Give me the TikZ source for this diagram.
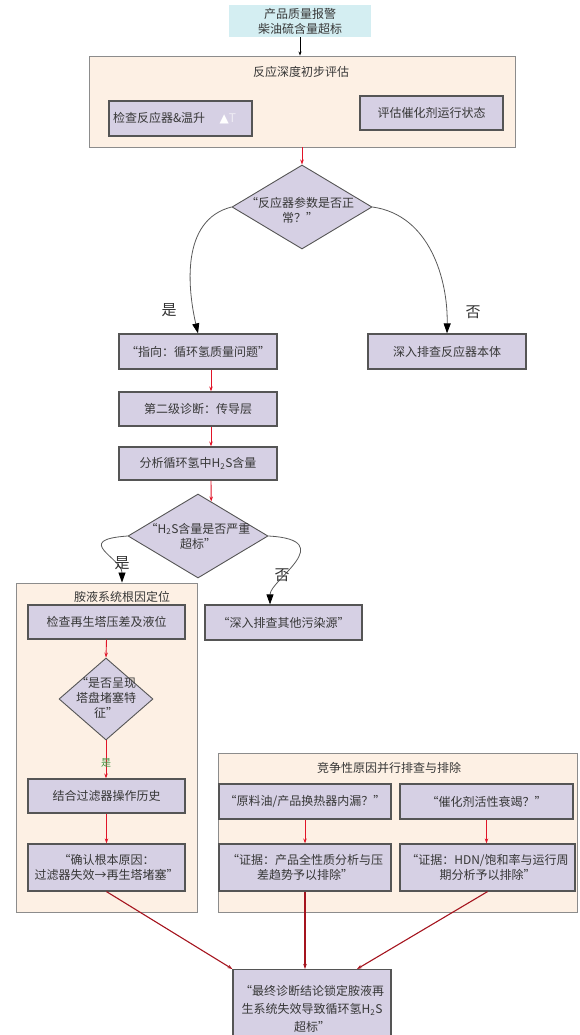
\documentclass[tikz,border=0pt]{standalone}
\usepackage{fontspec}
\setmainfont{Noto Sans CJK SC}
\newfontfamily\symfont{DejaVu Sans}
\usetikzlibrary{shapes.geometric,arrows.meta,calc}
\definecolor{lav}{RGB}{214,208,228}
\definecolor{peach}{RGB}{253,240,228}
\definecolor{cyanbox}{RGB}{212,238,242}
\definecolor{bordr}{RGB}{85,85,85}
\definecolor{clbord}{RGB}{140,140,140}
\definecolor{txt}{RGB}{55,55,55}
\definecolor{redline}{RGB}{225,20,40}
\definecolor{darkred}{RGB}{165,20,30}
\definecolor{lblgreen}{RGB}{70,150,70}
\begin{document}
\begin{tikzpicture}[x=1pt,y=-1pt,
  every node/.style={font=\fontsize{12}{15}\selectfont, text=txt},
  box/.style={draw=bordr, line width=1.2pt, fill=lav, align=center, inner sep=2pt},
  cluster/.style={draw=clbord, line width=0.9pt, fill=peach, inner sep=0pt},
  dia/.style={diamond, draw=bordr, line width=0.9pt, fill=lav, inner sep=0pt},
  dtext/.style={align=center, inner sep=0pt},
  lbl/.style={font=\fontsize{15}{18}\selectfont, text=black!80},
  redarr/.style={draw=redline, line width=0.9pt, -{Stealth[length=5pt,width=3.5pt]}},
  curvearr/.style={draw=black!65, line width=0.8pt, -{Triangle[length=10pt,width=7pt,color=black]}},
  finline/.style={draw=darkred, line width=1.1pt, -{Stealth[length=5pt,width=3.5pt]}},
]
\useasboundingbox (0,0) rectangle (579,1035);

% top
\node[fill=cyanbox, minimum width=142pt, minimum height=32pt, align=center, inner sep=0pt] (top) at (300,21) {产品质量报警\\柴油硫含量超标};

% cluster 1
\node[cluster, minimum width=426pt, minimum height=91pt] (cl1) at (302,101.5) {};
\node (cl1t) at (301,72) {反应深度初步评估};
\node[box, minimum width=143pt, minimum height=35pt, text width=135pt, align=left, inner xsep=4pt] (b1) at (180.5,118.5) {检查反应器\&温升\hspace{1.2em}{\symfont\color{white}▲}{\color{white!60!lav}T}};
\node[box, minimum width=143pt, minimum height=34pt] (b2) at (431.5,113) {评估催化剂运行状态};

% diamond 1
\node[dia, minimum width=140pt, minimum height=84pt] (d1) at (302,207) {};
\node[dtext] (d1t) at (300,210) {“反应器参数是否正\\常？”};

\node[box, minimum width=158pt, minimum height=35pt] (zx) at (198,351.5) {“指向：循环氢质量问题”};
\node[box, minimum width=158pt, minimum height=35pt] (bt) at (447,351.5) {深入排查反应器本体};
\node[box, minimum width=158pt, minimum height=34pt] (l2) at (198,409) {第二级诊断：传导层};
\node[box, minimum width=158pt, minimum height=33pt] (ana) at (198,463.5) {分析循环氢中H\textsubscript{2}S含量};

% diamond 2
\node[dia, minimum width=140pt, minimum height=84pt] (d2) at (198,536) {};
\node[dtext] (d2t) at (198,536) {“H\textsubscript{2}S含量是否严重\\超标”};

% cluster 2
\node[cluster, minimum width=181pt, minimum height=329pt] (cl2) at (106.5,747.5) {};
\node (cl2t) at (122,597) {胺液系统根因定位};
\node[box, minimum width=157pt, minimum height=34pt] (chk) at (106.5,622) {检查再生塔压差及液位};
\node[dia, minimum width=94pt, minimum height=82pt] (d3) at (106,699) {};
\node[dtext] (d3t) at (106,698) {“是否呈现\\塔盘堵塞特\\征”};
\node[box, minimum width=157pt, minimum height=34pt] (flt) at (106.5,796) {结合过滤器操作历史};
\node[box, minimum width=157pt, minimum height=47pt] (conf) at (106.5,867.5) {“确认根本原因：\\过滤器失效→再生塔堵塞”};

\node[box, minimum width=157pt, minimum height=35pt] (oth) at (283.5,622.5) {“深入排查其他污染源”};

% cluster 3
\node[cluster, minimum width=359pt, minimum height=159pt] (cl3) at (397.5,832.5) {};
\node (cl3t) at (389,768) {竞争性原因并行排查与排除};
\node[box, minimum width=172pt, minimum height=35pt] (raw) at (305,801.5) {“原料油/产品换热器内漏？”};
\node[box, minimum width=173pt, minimum height=35pt] (cat) at (486.5,801.5) {“催化剂活性衰竭？”};
\node[box, minimum width=172pt, minimum height=47pt] (e1) at (305,867.5) {“证据：产品全性质分析与压\\差趋势予以排除”};
\node[box, minimum width=175pt, minimum height=47pt] (e2) at (487.5,867.5) {“证据：HDN/饱和率与运行周\\期分析予以排除”};

% final
\node[box, minimum width=158pt, minimum height=78pt, anchor=north, font=\fontsize{12}{18}\selectfont] (fin) at (312,969) {“最终诊断结论锁定胺液再\\生系统失效导致循环氢H\textsubscript{2}S\\超标”};

% edges
\draw[-{Stealth[length=4pt,width=3pt]}, black, line width=0.6pt] (top.south) -- (top.south |- cl1.north);
\draw[redarr] (cl1.south) -- (d1.north);
\draw[curvearr] (d1.west) .. controls (180,220) and (188,290) .. (zx.north);
\draw[curvearr] (d1.east) .. controls (430,215) and (448,280) .. (bt.north);
\node[lbl] (y1) at (169,310) {是};
\node[lbl] (n1) at (473,312) {否};

\draw[redarr] ([xshift=13pt]zx.south) -- ([xshift=13pt]l2.north);
\draw[redarr] ([xshift=13pt]l2.south) -- ([xshift=13pt]ana.north);
\draw[redarr] ([xshift=13pt]ana.south) -- (d2.69);

\draw[curvearr] (d2.west) .. controls (72,540) and (122,558) .. ([xshift=15.5pt]cl2.north);
\draw[curvearr] (d2.east) .. controls (340,540) and (270,580) .. ([xshift=-13.5pt]oth.north);
\node[lbl] (y2) at (122,563) {是};
\node[lbl] (n2) at (282,575) {否};

\draw[redarr] (chk.south) -- (d3.north);
\draw[redarr] (d3.south) -- (d3.south |- flt.north);
\node[font=\fontsize{10}{12}\selectfont, text=lblgreen, inner sep=0pt] (y3) at (106,763) {是};
\draw[redarr] (flt.south) -- (conf.north);

\draw[redarr] (raw.south) -- (e1.north);
\draw[redarr] (cat.south) -- (cat.south |- e2.north);

\draw[finline] (conf.south) -- (fin.north west);
\draw[finline] (e1.south) -- (e1.south |- fin.north);
\draw[finline] (e2.south) -- ([xshift=45pt]fin.north);
\end{tikzpicture}
\end{document}
